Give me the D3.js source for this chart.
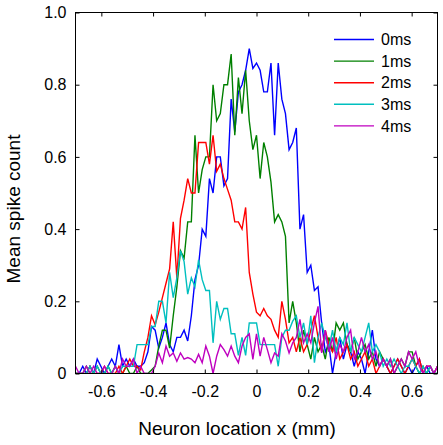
<!DOCTYPE html>
<html>
<head>
<meta charset="utf-8">
<script src="https://cdn.jsdelivr.net/npm/d3@7"></script>
<style>
html,body{margin:0;padding:0;background:#fff;}
svg{display:block;font-family:"Liberation Sans",Arial,sans-serif;}
</style>
</head>
<body>
<svg id="chart" width="443" height="445"></svg>
<script>
// x grid: 101 neuron locations from -0.7 to 0.7 mm
const xStart = -0.7, xStep = 0.014, nPoints = 101;
const seriesNames = ["0ms","1ms","2ms","3ms","4ms"];
const seriesColors = ["#0000ff","#008000","#ff0000","#00bfbf","#bf00bf"];
const xTicks = [-0.6,-0.4,-0.2,0,0.2,0.4,0.6];
const xTickLabels = ["-0.6","-0.4","-0.2","0","0.2","0.4","0.6"];
const yTicks = [0,0.2,0.4,0.6,0.8,1.0];
const yTickLabels = ["0","0.2","0.4","0.6","0.8","1.0"];

const s0ms = [0,0,0.02,0,0.02,0,0.04,0.02,0,0.02,
  0.04,0.02,0.08,0.02,0.04,0.02,0.04,0.02,0.02,0.03,
  0.06,0.13,0.12,0.07,0.10,0.14,0.08,0.06,0.10,0.10,
  0.12,0.09,0.16,0.26,0.30,0.40,0.38,0.54,0.50,0.60,
  0.60,0.52,0.54,0.76,0.67,0.78,0.80,0.84,0.90,0.845,
  0.86,0.84,0.78,0.78,0.86,0.66,0.86,0.76,0.72,0.62,
  0.64,0.68,0.40,0.44,0.28,0.30,0.23,0.24,0.14,0.06,
  0.08,0.00,0.06,0.10,0.04,0.08,0.06,0.02,0.06,0.04,
  0.00,0.06,0.12,0.04,0.02,0.04,0.02,0.00,0.02,0.04,
  0.02,0,0.02,0,0.02,0.04,0,0.02,0,0,
  0.02];
const s1ms = [0,0,0,0.02,0,0,0.02,0,0,0.02,
  0,0.02,0,0,0.02,0,0,0.02,0,0,
  0,0.01,0.02,0.076,0.12,0.12,0.07,0.16,0.24,0.34,
  0.32,0.42,0.42,0.66,0.50,0.565,0.60,0.60,0.80,0.70,
  0.72,0.80,0.80,0.885,0.66,0.82,0.72,0.84,0.70,0.62,
  0.66,0.54,0.64,0.60,0.53,0.42,0.44,0.42,0.38,0.14,
  0.20,0.14,0.06,0.12,0.08,0.04,0.10,0.06,0.08,0.04,
  0.10,0.06,0.14,0.12,0.14,0.08,0.06,0.10,0.04,0.06,
  0.08,0.04,0.06,0.02,0.06,0.04,0.02,0.04,0.00,0.02,
  0.04,0.02,0.06,0.06,0.02,0.00,0.02,0,0.02,0,
  0];
const s2ms = [0,0,0,0,0.02,0,0,0,0.02,0,
  0,0,0.02,0,0.02,0.04,0.02,0.02,0.01,0.06,
  0.10,0.16,0.135,0.17,0.21,0.25,0.29,0.42,0.265,0.43,
  0.48,0.54,0.50,0.50,0.64,0.64,0.64,0.58,0.66,0.56,
  0.58,0.54,0.51,0.48,0.42,0.42,0.40,0.46,0.28,0.22,
  0.17,0.16,0.18,0.16,0.15,0.12,0.10,0.20,0.15,0.085,
  0.10,0.06,0.10,0.06,0.08,0.12,0.16,0.10,0.06,0.12,
  0.08,0.06,0.10,0.04,0.06,0.08,0.04,0.06,0.02,0.04,
  0.06,0.02,0.04,0.00,0.02,0.04,0.02,0.00,0.02,0.04,
  0.02,0.00,0.02,0.04,0.02,0.04,0.00,0.02,0.02,0.00,
  0.02];
const s3ms = [0,0,0,0,0.02,0,0.02,0,0,0.02,
  0,0.02,0,0.02,0.02,0.02,0.02,0.08,0.08,0.08,
  0.08,0.13,0.13,0.20,0.20,0.14,0.28,0.21,0.265,0.34,
  0.31,0.22,0.265,0.24,0.315,0.26,0.23,0.23,0.085,0.20,
  0.15,0.18,0.18,0.11,0.11,0.05,0.10,0.05,0.14,0.14,
  0.14,0.08,0.08,0.08,0.08,0.08,0.02,0.10,0.12,0.12,
  0.145,0.16,0.10,0.14,0.08,0.16,0.03,0.10,0.14,0.10,
  0.07,0.12,0.06,0.10,0.08,0.14,0.06,0.10,0.08,0.06,
  0.10,0.14,0.06,0.08,0.06,0.02,0.04,0.02,0.04,0.02,
  0.00,0.02,0.02,0.04,0.02,0.00,0.02,0.00,0.02,0.00,
  0.00];
const s4ms = [0.02,0,0,0.02,0,0.02,0,0,0.02,0,
  0,0.02,0,0.04,0.02,0.02,0.04,0,0.02,0,
  0,0.00,0.02,0.057,0.03,0.076,0.048,0.057,0.034,0.057,
  0.04,0.044,0.04,0.03,0.053,0.03,0.076,0.048,0.00,0.048,
  0.08,0.066,0.048,0.076,0.048,0.03,0.076,0.10,0.11,0.039,
  0.11,0.048,0.10,0.066,0.03,0.057,0.048,0.11,0.09,0.057,
  0.085,0.10,0.15,0.085,0.11,0.085,0.14,0.186,0.057,0.12,
  0.06,0.10,0.04,0.08,0.06,0.10,0.12,0.04,0.06,0.10,
  0.06,0.08,0.04,0.06,0.02,0.04,0.02,0.04,0.00,0.02,
  0.04,0.02,0.06,0.04,0.06,0.02,0.00,0.02,0.02,0.00,
  0.02];
const seriesValues = [s0ms,s1ms,s2ms,s3ms,s4ms];

const svg = d3.select("#chart");
const L = 75.5, R = 437.5, T = 12.5, B = 373.5;
const x = d3.scaleLinear().domain([-0.7,0.7]).range([L,R]);
const y = d3.scaleLinear().domain([0,1]).range([B,T]);

svg.append("defs").append("clipPath").attr("id","clip")
  .append("rect").attr("x",L).attr("y",T).attr("width",R-L).attr("height",B-T);

const line = d3.line().x((d,i)=>x(xStart+i*xStep)).y(d=>y(d));
const g = svg.append("g").attr("clip-path","url(#clip)");
seriesValues.forEach((vals,si)=>{
  g.append("path").datum(vals).attr("d",line)
    .attr("fill","none").attr("stroke",seriesColors[si])
    .attr("stroke-width",1.4).attr("stroke-linejoin","miter");
});

// frame
svg.append("rect").attr("x",L).attr("y",T).attr("width",R-L).attr("height",B-T)
  .attr("fill","none").attr("stroke","#000").attr("stroke-width",1);

const tl = 4;
// axes with inward ticks
const xAxisB = d3.axisBottom(x).tickValues(xTicks).tickSizeInner(-tl).tickSizeOuter(0)
  .tickPadding(12).tickFormat((d,i)=>xTickLabels[i]);
const gxb = svg.append("g").attr("transform",`translate(0,${B})`).call(xAxisB);
const xAxisT = d3.axisTop(x).tickValues(xTicks).tickSizeInner(-tl).tickSizeOuter(0).tickFormat("");
const gxt = svg.append("g").attr("transform",`translate(0,${T})`).call(xAxisT);
const yAxisL = d3.axisLeft(y).tickValues(yTicks).tickSizeInner(-tl).tickSizeOuter(0)
  .tickPadding(9).tickFormat((d,i)=>yTickLabels[i]);
const gyl = svg.append("g").attr("transform",`translate(${L},0)`).call(yAxisL);
const yAxisR = d3.axisRight(y).tickValues(yTicks).tickSizeInner(-tl).tickSizeOuter(0).tickFormat("");
const gyr = svg.append("g").attr("transform",`translate(${R},0)`).call(yAxisR);
[gxb,gxt,gyl,gyr].forEach(a=>{
  a.select(".domain").remove();
  a.selectAll("line").attr("stroke","#000");
  a.selectAll("text").attr("fill","#000").style("font-size","16px")
    .style("font-family","'Liberation Sans',Arial,sans-serif");
});

// axis titles
svg.append("text").attr("x",237).attr("y",435).attr("text-anchor","middle")
  .style("font-size","19px").attr("fill","#000").text("Neuron location x (mm)");
svg.append("text").attr("transform","translate(20,209) rotate(-90)").attr("text-anchor","middle")
  .style("font-size","19px").attr("fill","#000").text("Mean spike count");

// legend
const leg = svg.append("g");
seriesNames.forEach((nm,i)=>{
  const yy = 39.5 + i*21.6;
  leg.append("line").attr("x1",334).attr("x2",374).attr("y1",yy).attr("y2",yy)
    .attr("stroke",seriesColors[i]).attr("stroke-width",1.4);
  leg.append("text").attr("x",381).attr("y",yy).attr("dy","0.35em")
    .style("font-size","16px").attr("fill","#000").text(nm);
});
</script>
</body>
</html>
